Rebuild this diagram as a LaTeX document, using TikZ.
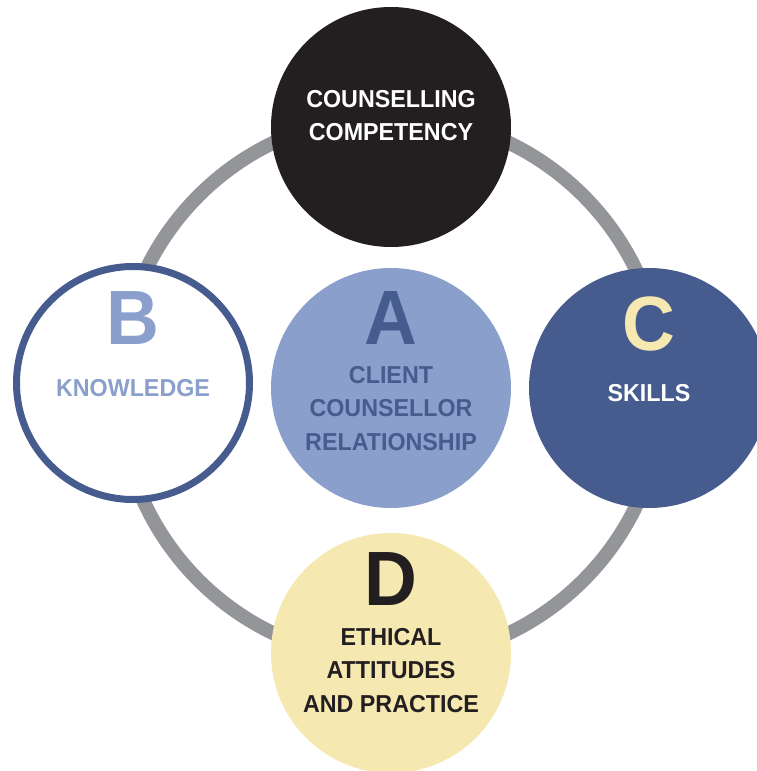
\documentclass[tikz,border=0pt]{standalone}
\usepackage{fontspec}
\setmainfont[FakeStretch=0.95]{Liberation Sans}
\definecolor{ringgray}{HTML}{939598}
\definecolor{nearblack}{HTML}{231F20}
\definecolor{darkblue}{HTML}{475C8E}
\definecolor{lightblue}{HTML}{8A9FCB}
\definecolor{paleyellow}{HTML}{F6E8B1}

\begin{document}
\begin{tikzpicture}[x=1pt,y=-1pt]
\useasboundingbox (0,0) rectangle (757,771);
\clip (0,0) rectangle (757,771);
\draw[draw=ringgray,line width=14pt] (391,388) circle[radius=272];
\begin{scope}[every node/.style={circle,minimum size=240pt,inner sep=0pt}]
	\node[fill=nearblack] (comp) at (391,127) {};
	\node[draw=darkblue,line width=7pt,fill=white,minimum size=233pt] (know) at (133,383) {};
	\node[fill=lightblue] (rel) at (391,388) {};
	\node[fill=darkblue] (skill) at (649,388) {};
	\node[fill=paleyellow] (eth) at (391,653) {};
\end{scope}
\begin{scope}[every node/.style={inner sep=0pt,anchor=base,font=\fontsize{77}{77}\selectfont\bfseries}]
	\node[text=darkblue] (letA) at (391,344) {A};
	\node[text=lightblue] (letB) at (133,344) {B};
	\node[text=paleyellow] (letC) at (649,350) {C};
	\node[text=nearblack] (letD) at (391,605) {D};
\end{scope}
\begin{scope}[every node/.style={inner sep=0pt,anchor=north,align=center,font=\fontsize{24.5}{33.5}\selectfont\bfseries}]
	\node[text=white] (compText) at (391,90) {COUNSELLING\\COMPETENCY};
	\node[text=lightblue] (knowText) at (133,379) {KNOWLEDGE};
	\node[text=darkblue] (relText) at (391,366) {CLIENT\\COUNSELLOR\\RELATIONSHIP};
	\node[text=white] (skillText) at (649,384) {SKILLS};
	\node[text=nearblack] (ethText) at (391,628) {ETHICAL\\ATTITUDES\\AND PRACTICE};
\end{scope}
\end{tikzpicture}
\end{document}
